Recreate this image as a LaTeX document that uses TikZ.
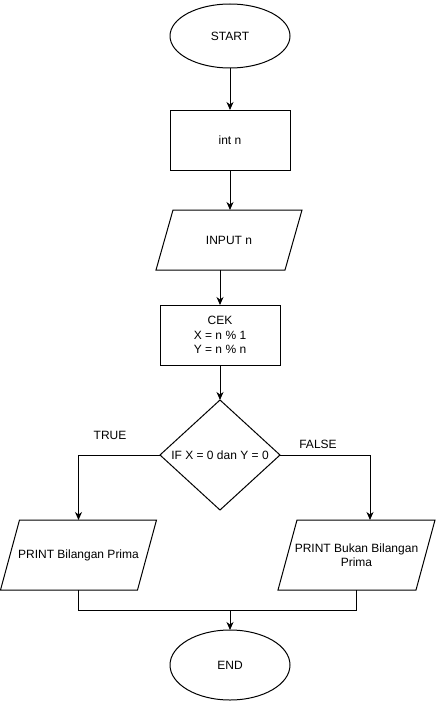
\documentclass[tikz,border=0pt]{standalone}
\usepackage{fontspec}
\setmainfont{Liberation Sans}
\usetikzlibrary{shapes.geometric,arrows.meta}
\begin{document}
\begin{tikzpicture}[x=1pt,y=-1pt,
  every node/.style={font=\fontsize{12pt}{14.5pt}\selectfont, inner sep=0pt, outer sep=0pt},
  line/.style={line width=1pt, draw=black},
  arr/.style={line/.style, line width=1pt, -{Stealth[length=8pt,width=7pt,inset=2.5pt]}},
  terminal/.style={ellipse, draw, line width=1pt, minimum width=120pt},
  procbox/.style={rectangle, draw, line width=1pt, minimum width=120pt, minimum height=60pt, align=center},
  decision/.style={diamond, draw, line width=1pt, minimum width=120pt, minimum height=110pt, aspect=1.09},
  iobox/.style={rectangle, align=center}
]
\useasboundingbox (0,0) rectangle (436,701);

% nodes
\node[terminal, minimum height=64pt] (start) at (230,36) {START};
\node[procbox] (intn) at (230,140) {int n};
\node[iobox, minimum width=146pt, minimum height=60pt] (input) at (229,240) {INPUT n};
\node[procbox] (cek) at (220,335) {CEK\\X = n \% 1\\Y = n \% n};
\node[decision] (dia) at (220,455) {IF X = 0 dan Y = 0};
\node[iobox, minimum width=156pt, minimum height=70pt] (ptrue) at (78.5,555) {PRINT Bilangan Prima};
\node[iobox, minimum width=157pt, minimum height=70pt] (pfalse) at (356.5,555) {PRINT Bukan Bilangan\\Prima};
\node[terminal, minimum height=70pt] (end) at (230,665) {END};

\node (ltrue) at (110,435) {TRUE};
\node (lfalse) at (318,444) {FALSE};

% parallelogram outlines
\draw[line] ([xshift=17pt]input.north west) -- (input.north east) -- ([xshift=-17pt]input.south east) -- (input.south west) -- cycle;
\draw[line] ([xshift=19pt]ptrue.north west) -- (ptrue.north east) -- ([xshift=-19pt]ptrue.south east) -- (ptrue.south west) -- cycle;
\draw[line] ([xshift=19pt]pfalse.north west) -- (pfalse.north east) -- ([xshift=-19pt]pfalse.south east) -- (pfalse.south west) -- cycle;

% connectors
\draw[arr] (start.south) -- (intn.north);
\draw[arr] (intn.south) -- (input.north -| intn.south);
\draw[arr] (input.south -| cek.north) -- (cek.north);
\draw[arr] (cek.south) -- (dia.north);
\draw[arr] (dia.west) -| (ptrue.north);
\coordinate (fin) at (370,520);
\draw[arr] (dia.east) -| (fin);
\coordinate (m) at (230,610);
\draw[line] (ptrue.south) |- (m);
\draw[line] (pfalse.south) |- (m);
\draw[arr] (m) -- (end.north);
\end{tikzpicture}
\end{document}
